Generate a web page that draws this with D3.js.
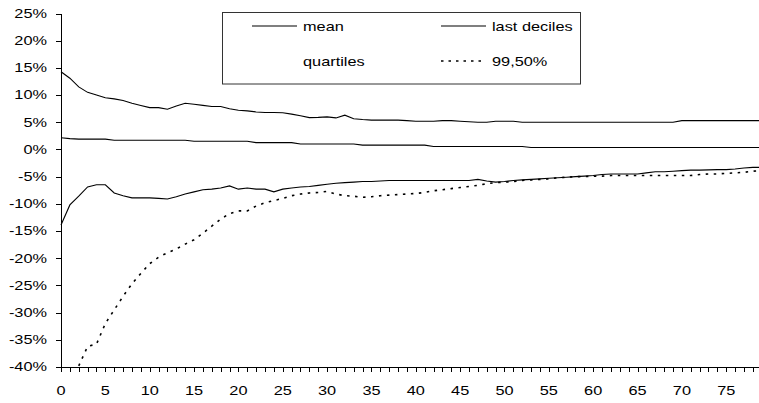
<!DOCTYPE html>
<html>
<head>
<meta charset="utf-8">
<script src="https://cdn.jsdelivr.net/npm/d3@7"></script>
<style>
  html, body { margin: 0; padding: 0; background: #fff; }
  svg { display: block; }
  text { font-family: "Liberation Sans", Arial, sans-serif; font-size: 12px; fill: #000; }
</style>
</head>
<body>
<svg id="chart" width="759" height="403"></svg>
<script>
// Horizon (years) shown along the bottom axis
const horizonCount = 80;
const xTickLabels = ["0", "5", "10", "15", "20", "25", "30", "35", "40", "45", "50", "55", "60", "65", "70", "75"];
const yTickValues = [25, 20, 15, 10, 5, 0, -5, -10, -15, -20, -25, -30, -35, -40];

// Series values in percent, one per year
const upperDecile = [
  14.3, 13.1, 11.5, 10.5, 10.0, 9.5, 9.3, 9.0, 8.5, 8.1,
  7.7, 7.7, 7.4, 8.0, 8.5, 8.3, 8.1, 7.9, 7.9, 7.5,
  7.2, 7.1, 6.9, 6.8, 6.8, 6.75, 6.5, 6.2, 5.85, 5.9,
  6.0, 5.8, 6.3, 5.65, 5.5, 5.4, 5.4, 5.4, 5.4, 5.3,
  5.2, 5.2, 5.2, 5.3, 5.3, 5.2, 5.1, 5.0, 5.0, 5.2,
  5.2, 5.2, 5.0, 5.0, 5.0, 5.0, 5.0, 5.0, 5.0, 5.0,
  5.0, 5.0, 5.0, 5.0, 5.0, 5.0, 5.0, 5.0, 5.0, 5.0,
  5.3, 5.3, 5.3, 5.3, 5.3, 5.3, 5.3, 5.3, 5.3, 5.3
];
const meanValues = [
  2.15, 2.0, 1.9, 1.9, 1.9, 1.9, 1.7, 1.7, 1.7, 1.7,
  1.7, 1.7, 1.7, 1.7, 1.7, 1.5, 1.5, 1.5, 1.5, 1.5,
  1.5, 1.5, 1.25, 1.25, 1.25, 1.25, 1.25, 1.0, 1.0, 1.0,
  1.0, 1.0, 1.0, 1.0, 0.8, 0.8, 0.8, 0.8, 0.8, 0.8,
  0.8, 0.8, 0.55, 0.55, 0.55, 0.55, 0.55, 0.55, 0.55, 0.55,
  0.55, 0.55, 0.55, 0.35, 0.35, 0.35, 0.35, 0.35, 0.35, 0.35,
  0.35, 0.35, 0.35, 0.35, 0.35, 0.35, 0.35, 0.35, 0.35, 0.35,
  0.35, 0.35, 0.35, 0.35, 0.35, 0.35, 0.35, 0.35, 0.35, 0.35
];
const lowerDecile = [
  -13.9, -10.2, -8.6, -6.9, -6.5, -6.5, -8.0, -8.5, -8.9, -8.9,
  -8.9, -9.0, -9.1, -8.7, -8.2, -7.8, -7.4, -7.3, -7.1, -6.7,
  -7.3, -7.1, -7.3, -7.3, -7.8, -7.3, -7.1, -6.9, -6.8, -6.6,
  -6.4, -6.2, -6.1, -6.0, -5.9, -5.9, -5.8, -5.7, -5.7, -5.7,
  -5.7, -5.7, -5.7, -5.7, -5.7, -5.7, -5.7, -5.5, -5.8, -6.0,
  -5.9, -5.7, -5.6, -5.5, -5.4, -5.3, -5.2, -5.1, -5.0, -4.9,
  -4.8, -4.6, -4.5, -4.5, -4.5, -4.5, -4.3, -4.1, -4.1, -4.0,
  -3.9, -3.8, -3.8, -3.75, -3.7, -3.7, -3.6, -3.4, -3.3, -3.3
];
const pct995 = [
  null, null, -39.8, -36.2, -35.8, -32.0, -29.5, -27.0, -24.7, -22.8,
  -21.0, -19.8, -19.0, -18.3, -17.4, -16.6, -15.4, -14.1, -12.8, -11.8,
  -11.3, -11.3, -10.4, -9.8, -9.4, -9.0, -8.5, -8.2, -8.0, -7.9,
  -7.7, -8.2, -8.5, -8.6, -8.8, -8.7, -8.5, -8.4, -8.3, -8.2,
  -8.1, -7.9, -7.6, -7.4, -7.2, -7.0, -6.8, -6.6, -6.3, -6.1,
  -6.0, -5.9, -5.7, -5.6, -5.5, -5.4, -5.2, -5.1, -5.0, -5.0,
  -4.9, -4.9, -4.8, -4.8, -4.8, -4.8, -4.8, -4.8, -4.8, -4.8,
  -4.8, -4.8, -4.6, -4.5, -4.5, -4.4, -4.3, -4.2, -4.0, -3.9
];

const legendItems = [
  { label: "mean", style: "solid", col: 0, row: 0 },
  { label: "last deciles", style: "solid", col: 1, row: 0 },
  { label: "quartiles", style: "none", col: 0, row: 1 },
  { label: "99,50%", style: "dotted", col: 1, row: 1 }
];

const svg = d3.select("#chart");
const textStretch = 1.36;

const x = d3.scaleLinear().domain([0, horizonCount - 1]).range([61, 761.7]);
const y = d3.scaleLinear().domain([-40, 25]).range([367, 13.5]);

// Y axis: line, outward ticks, percent labels
const yAxis = d3.axisLeft(y).tickValues(yTickValues).tickSize(5).tickSizeOuter(0).tickFormat("");
const yg = svg.append("g").attr("transform", "translate(61,0)").call(yAxis);
yg.selectAll("path, line").attr("stroke", "#000").attr("shape-rendering", "crispEdges");

svg.append("g").selectAll("text").data(yTickValues).join("text")
  .attr("transform", d => `translate(47,${y(d) + 4.3}) scale(${textStretch},1)`)
  .attr("text-anchor", "end")
  .text(d => d + "%");

// X axis: a tick at every year, label every fifth
const xAxis = d3.axisBottom(x).tickValues(d3.range(horizonCount)).tickSize(5).tickSizeOuter(0).tickFormat("");
const xg = svg.append("g").attr("transform", `translate(0,${y(-40)})`).call(xAxis);
xg.selectAll("path, line").attr("stroke", "#000").attr("shape-rendering", "crispEdges");

svg.append("g").selectAll("text").data(xTickLabels).join("text")
  .attr("transform", d => `translate(${x(+d)},395) scale(${textStretch},1)`)
  .attr("text-anchor", "middle")
  .text(d => d);

// Series lines
const line = d3.line()
  .defined(d => d != null)
  .x((d, i) => x(i))
  .y(d => y(d));

const lines = svg.append("g").attr("fill", "none");
[upperDecile, meanValues, lowerDecile].forEach(series => {
  lines.append("path").datum(series)
    .attr("d", line)
    .attr("stroke", "#000")
    .attr("stroke-width", 1.1);
});
lines.append("path").datum(pct995)
  .attr("d", line)
  .attr("stroke", "#000")
  .attr("stroke-width", 1.6)
  .attr("stroke-dasharray", "2.5,5.5");

// Legend
const legend = svg.append("g");
legend.append("rect")
  .attr("x", 222.5).attr("y", 12.5)
  .attr("width", 358).attr("height", 71.5)
  .attr("fill", "#fff").attr("stroke", "#333").attr("stroke-width", 1);

const colX = [252, 441];
const rowY = [26, 61];
legendItems.forEach(item => {
  const lx = colX[item.col];
  const ly = rowY[item.row];
  if (item.style !== "none") {
    legend.append("line")
      .attr("x1", lx).attr("x2", lx + 45)
      .attr("y1", ly).attr("y2", ly)
      .attr("stroke", "#000")
      .attr("stroke-width", item.style === "dotted" ? 1.6 : 1.1)
      .attr("stroke-dasharray", item.style === "dotted" ? "2.5,5" : null);
  }
  legend.append("text")
    .attr("transform", `translate(${lx + 51},${ly + 5}) scale(${textStretch},1)`)
    .text(item.label);
});
</script>
</body>
</html>
